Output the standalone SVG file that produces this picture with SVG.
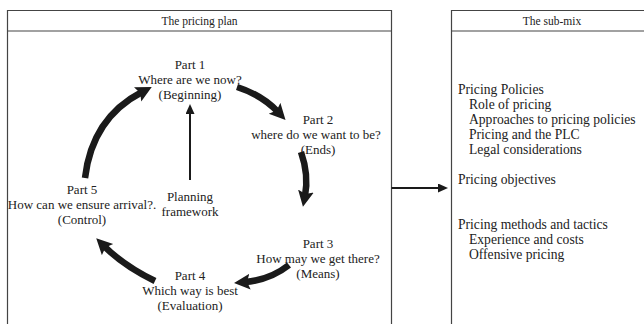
<svg xmlns="http://www.w3.org/2000/svg" width="644" height="324" viewBox="0 0 644 324">
<style>
text{font-family:"Liberation Serif","Times New Roman",serif;font-size:13px;fill:#222}
.h{font-size:11.5px}
.r{font-size:13.6px}
.c{text-anchor:middle}
.box{fill:none;stroke:#444;stroke-width:1.2}
.big{fill:none;stroke:#1a1a1a;stroke-width:6.5;marker-end:url(#bh)}
.thin{fill:none;stroke:#1a1a1a;stroke-width:2;marker-end:url(#sh)}
</style>
<defs>
<marker id="bh" markerUnits="userSpaceOnUse" markerWidth="20" markerHeight="20" refX="5" refY="8" orient="auto">
<path d="M0,0 L16,8 L0,16 L3,8 z" fill="#1a1a1a"/>
</marker>
<marker id="sh" markerUnits="userSpaceOnUse" markerWidth="12" markerHeight="12" refX="2" refY="4.5" orient="auto">
<path d="M0,0 L10,4.5 L0,9 z" fill="#1a1a1a"/>
</marker>
</defs>
<rect width="644" height="324" fill="#fff"/>
<g id="plan">
<path class="box" d="M7.5,330 V10.5 H391.5 V330 M7.5,31 H391.5"/>
<text class="h c" x="199.5" y="25">The pricing plan</text>
</g>
<g id="submix">
<path class="box" d="M451.5,330 V10.5 H660 M451.5,31 H660"/>
<text class="h c" x="552" y="25">The sub-mix</text>
<text class="r" x="458" y="94">Pricing Policies</text>
<text class="r" x="469" y="108.5">Role of pricing</text>
<text class="r" x="469" y="123.5">Approaches to pricing policies</text>
<text class="r" x="469" y="138.5">Pricing and the PLC</text>
<text class="r" x="469" y="153.5">Legal considerations</text>
<text class="r" x="458" y="184">Pricing objectives</text>
<text class="r" x="458" y="229">Pricing methods and tactics</text>
<text class="r" x="469" y="244">Experience and costs</text>
<text class="r" x="469" y="259">Offensive pricing</text>
</g>
<g id="part1">
<text class="c" x="190" y="69">Part 1</text>
<text class="c" x="190" y="84">Where are we now?</text>
<text class="c" x="190" y="99">(Beginning)</text>
</g>
<g id="part2">
<text class="c" x="318" y="124">Part 2</text>
<text class="c" x="316" y="139">where do we want to be?</text>
<text class="c" x="318" y="154">(Ends)</text>
</g>
<g id="part3">
<text class="c" x="318" y="248">Part 3</text>
<text class="c" x="318" y="263">How may we get there?</text>
<text class="c" x="318" y="278">(Means)</text>
</g>
<g id="part4">
<text class="c" x="190" y="280">Part 4</text>
<text class="c" x="190" y="295">Which way is best</text>
<text class="c" x="190" y="310">(Evaluation)</text>
</g>
<g id="part5">
<text class="c" x="82" y="194">Part 5</text>
<text class="c" x="82" y="209">How can we ensure arrival?.</text>
<text class="c" x="82" y="224">(Control)</text>
</g>
<g id="framework">
<text class="c" x="190" y="201">Planning</text>
<text class="c" x="190" y="216">framework</text>
</g>
<g id="connectors">
<path class="big" d="M85,178 Q92,118 142,92"/>
<path class="big" d="M237,87 Q262,95 278,112"/>
<path class="big" d="M301,152 Q309,175 305,196"/>
<path class="big" d="M289,265 Q270,280 245,282"/>
<path class="big" d="M155,281 Q124,266 104,246"/>
<path class="thin" d="M190,180 V112"/>
<path class="thin" d="M391.5,188 H440"/>
</g>
</svg>
